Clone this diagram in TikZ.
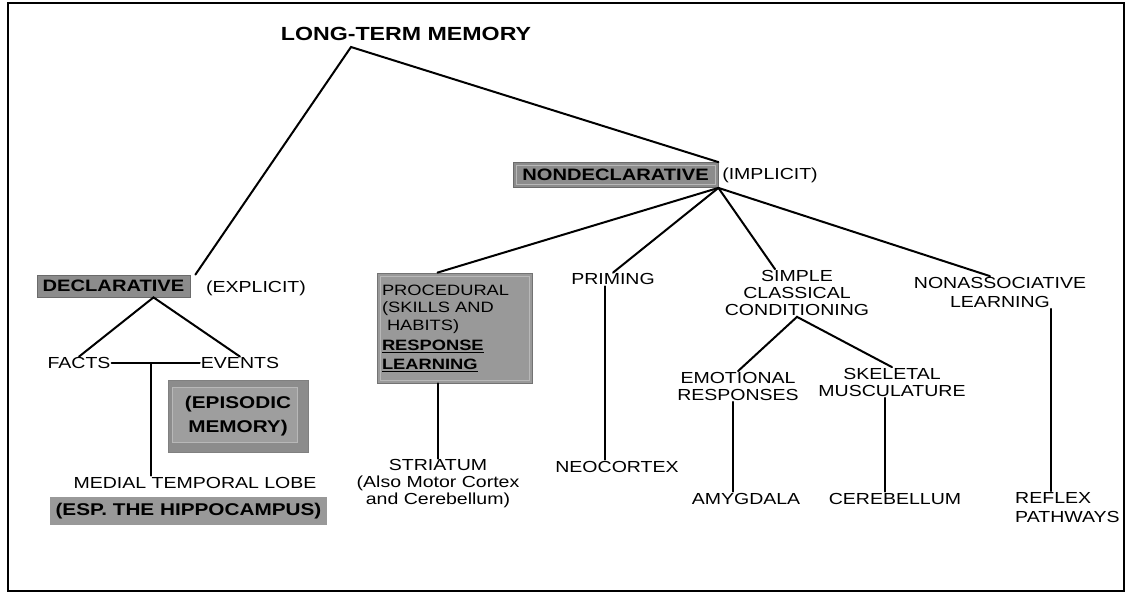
\documentclass[tikz,border=0pt]{standalone}
\usepackage{fontspec}
\setmainfont{Liberation Sans}[FakeStretch=1.22]
\usetikzlibrary{calc}

\begin{document}
\begin{tikzpicture}[x=1pt, y=-1pt,
    tag/.style={inner sep=1pt, align=center, font=\fontsize{16}{17}\selectfont},
    headtag/.style={inner sep=1pt, font=\bfseries\fontsize{19}{22}\selectfont},
    greybox/.style={fill=black!45, draw=black!58, line width=0.8pt, inner sep=0pt,
        font=\bfseries\fontsize{16.5}{19}\selectfont},
    innerframe/.style={path picture={
        \draw[black!28, line width=0.8pt]
            ([shift={(#1,-#1)}]path picture bounding box.north west) rectangle
            ([shift={(-#1,#1)}]path picture bounding box.south east);}},
    innerframe/.default=3pt,
    link/.style={line width=2pt, line cap=round},
    ]
    \useasboundingbox (0,0) rectangle (1127,593);
    \draw[line width=1.8pt] (8,3) rectangle (1124,591);

    % top
    \node[headtag, anchor=base] (ltm) at (406,41) {LONG-TERM MEMORY};
    \coordinate (apex) at (351,47);

    % declarative side
    \node[greybox, minimum width=153pt, minimum height=22pt] (decl) at (113.5,286) {DECLARATIVE};
    \node[tag, anchor=base] (explicit) at (256,293) {(EXPLICIT)};
    \node[tag, anchor=base] (facts) at (79,369) {FACTS};
    \node[tag, anchor=base] (events) at (240,369) {EVENTS};
    \node[greybox, fill=black!45, draw=black!50, minimum width=140pt, minimum height=72pt,
        align=center, font=\bfseries\fontsize{17}{24}\selectfont,
        path picture={\draw[black!28, fill=black!38, line width=0.8pt]
            ([shift={(4pt,-7pt)}]path picture bounding box.north west) rectangle
            ([shift={(-11pt,10pt)}]path picture bounding box.south east);}]
        (episodic) at (238,416) {(EPISODIC\\MEMORY)};
    \node[tag, anchor=base] (mtl) at (195,488) {MEDIAL TEMPORAL LOBE};
    \node[greybox, fill=black!40, draw=none, minimum width=277pt, minimum height=28pt,
        font=\bfseries\fontsize{17}{20}\selectfont] (hippo) at (188.5,511) {(ESP. THE HIPPOCAMPUS)};

    % nondeclarative side
    \node[greybox, innerframe, minimum width=205pt, minimum height=25pt] (nondecl) at (615.5,175) {NONDECLARATIVE};
    \node[tag, anchor=base] (implicit) at (770,180) {(IMPLICIT)};
    \node[greybox, innerframe, fill=black!40, draw=black!55, minimum width=155pt, minimum height=110pt,
        text width=145pt, align=left, font=\fontsize{15}{17.5}\selectfont]
        (proc) at (454.5,328)
        {PROCEDURAL\\(SKILLS AND\\\hspace*{5pt}HABITS)\\[3pt]\textbf{\underline{RESPONSE}}\\[1pt]\textbf{\underline{LEARNING}}};
    \node[tag] (striatum) at (438,484) {STRIATUM\\(Also Motor Cortex\\and Cerebellum)};
    \node[tag, anchor=base] (priming) at (613,285) {PRIMING};
    \node[tag, anchor=base] (neocortex) at (617,472) {NEOCORTEX};
    \node[tag] (simple) at (797,293) {SIMPLE\\CLASSICAL\\CONDITIONING};
    \node[tag] (emotional) at (738,386.5) {EMOTIONAL\\RESPONSES};
    \node[tag] (skeletal) at (892,382.5) {SKELETAL\\MUSCULATURE};
    \node[tag, anchor=base] (amygdala) at (746,504) {AMYGDALA};
    \node[tag, anchor=base] (cerebellum) at (895,504) {CEREBELLUM};
    \node[tag, font=\fontsize{16}{19}\selectfont] (nonassoc) at (1000,292.5) {NONASSOCIATIVE\\LEARNING};
    \node[tag, align=left, font=\fontsize{16}{19}\selectfont, anchor=west] (reflex) at (1014,507.5) {REFLEX\\PATHWAYS};

    % connectors
    \draw[link] ([xshift=5pt]decl.north east) -- (apex) -- (nondecl.north east);
    \coordinate (decl fork) at ([xshift=40pt]decl.south);
    \draw[link] (facts.north) -- (decl fork) -- (events.north);
    \draw[link] (facts.east) -- (events.west);
    \coordinate (fe fork) at ($(facts.east)!0.45!(events.west)$);
    \draw[link] (fe fork) -- (fe fork |- mtl.north);

    \draw[link] (nondecl.south east) -- ([xshift=-17pt]proc.north);
    \draw[link] (nondecl.south east) -- (priming.north);
    \draw[link] (nondecl.south east) -- ([xshift=-22pt]simple.north);
    \draw[link] (nondecl.south east) -- ([xshift=-10pt]nonassoc.north);
    \draw[link] (proc.south -| striatum.north) -- (striatum.north);
    \draw[link] ([xshift=-8pt]priming.south) -- ([xshift=-8pt]priming.south |- neocortex.north);
    \draw[link] (emotional.north) -- (simple.south) -- (skeletal.north);
    \draw[link] ([xshift=-5pt]emotional.south) -- ([xshift=-5pt]emotional.south |- amygdala.north);
    \draw[link] ([xshift=-7pt]skeletal.south) -- ([xshift=-7pt]skeletal.south |- cerebellum.north);
    \draw[link] ([xshift=51pt]nonassoc.south) -- ([xshift=51pt]nonassoc.south |- reflex.north);
\end{tikzpicture}
\end{document}
